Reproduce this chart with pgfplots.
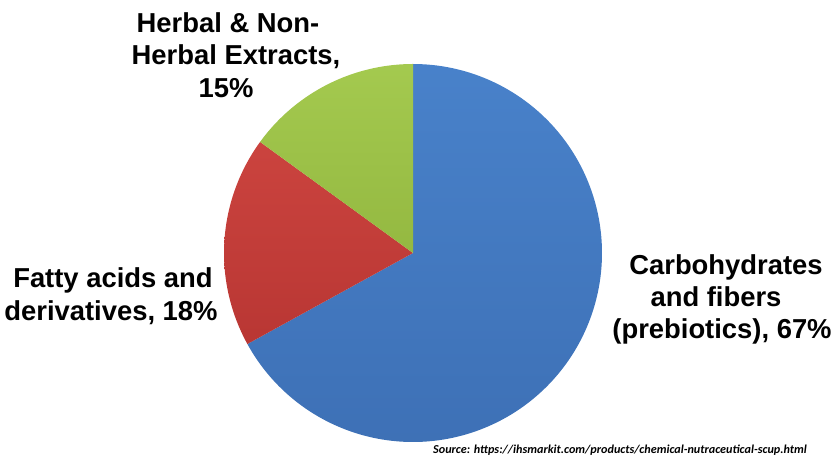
\documentclass[border=0pt]{standalone}
\usepackage{pgfplots}
\pgfplotsset{compat=1.18}
\usepackage{fontspec}
\setmainfont{Liberation Sans}
\newfontfamily\srcfont{Carlito}
\definecolor{bluetop}{RGB}{78,138,212}
\definecolor{bluebot}{RGB}{56,104,172}
\definecolor{redtop}{RGB}{212,74,68}
\definecolor{redbot}{RGB}{176,48,46}
\definecolor{greentop}{RGB}{172,210,86}
\definecolor{greenbot}{RGB}{140,176,58}
\pgfdeclareverticalshading{blueshade}{100bp}{color(0bp)=(bluebot); color(100bp)=(bluetop)}
\pgfdeclareverticalshading{redshade}{100bp}{color(0bp)=(redbot); color(100bp)=(redtop)}
\pgfdeclareverticalshading{greenshade}{100bp}{color(0bp)=(greenbot); color(100bp)=(greentop)}
% shares in percent
\def\pA{67}% Carbohydrates and fibers
\def\pB{18}% Fatty acids
\def\pC{15}% Herbal extracts
\begin{document}
\begin{tikzpicture}
\begin{axis}[
  scale only axis, width=835bp, height=458bp,
  xmin=-413, xmax=422, ymin=-205, ymax=253,
  hide axis, clip=false,
]
\path (rel axis cs:0,0) rectangle (rel axis cs:1,1);
\pgfmathsetmacro{\aA}{90-3.6*\pA}
\pgfmathsetmacro{\aB}{\aA-3.6*\pB}
\pgfmathsetmacro{\aC}{90+3.6*\pC}
% Carbohydrates
\addplot[data cs=polar, domain=\aA:90, samples=200, draw=none,
  shade, shading=blueshade] ({x},{189}) -- (axis cs:0,0) -- cycle;
% Fatty acids
\addplot[data cs=polar, domain=\aB:\aA, samples=80, draw=none,
  shade, shading=redshade] ({x},{189}) -- (axis cs:0,0) -- cycle;
% Herbal
\addplot[data cs=polar, domain=90:\aC, samples=80, draw=none,
  shade, shading=greenshade] ({x},{189}) -- (axis cs:0,0) -- cycle;
\tikzset{lbl/.style={anchor=base, font=\bfseries\fontsize{27.5}{33}\selectfont, inner sep=0pt, overlay}}
\node[lbl] at (axis cs:{228-413},{253-33}) {Herbal \& Non-};
\node[lbl] at (axis cs:{236-413},{253-65}) {Herbal Extracts,};
\node[lbl] at (axis cs:{226-413},{253-98}) {15\%};
\node[lbl] at (axis cs:{113-413},{253-288}) {Fatty acids and};
\node[lbl] at (axis cs:{111-413},{253-321}) {derivatives, 18\%};
\node[lbl] at (axis cs:{726-413},{253-275}) {Carbohydrates};
\node[lbl] at (axis cs:{716-413},{253-307}) {and fibers};
\node[lbl] at (axis cs:{722-413},{253-339}) {(prebiotics), 67\%};
\node[anchor=base west, inner sep=0pt, overlay, font=\srcfont\bfseries\itshape\fontsize{12.2}{14}\selectfont]
  at (axis cs:{433-413},{253-453}) {Source: https://ihsmarkit.com/products/chemical-nutraceutical-scup.html};
\end{axis}
\end{tikzpicture}
\end{document}
